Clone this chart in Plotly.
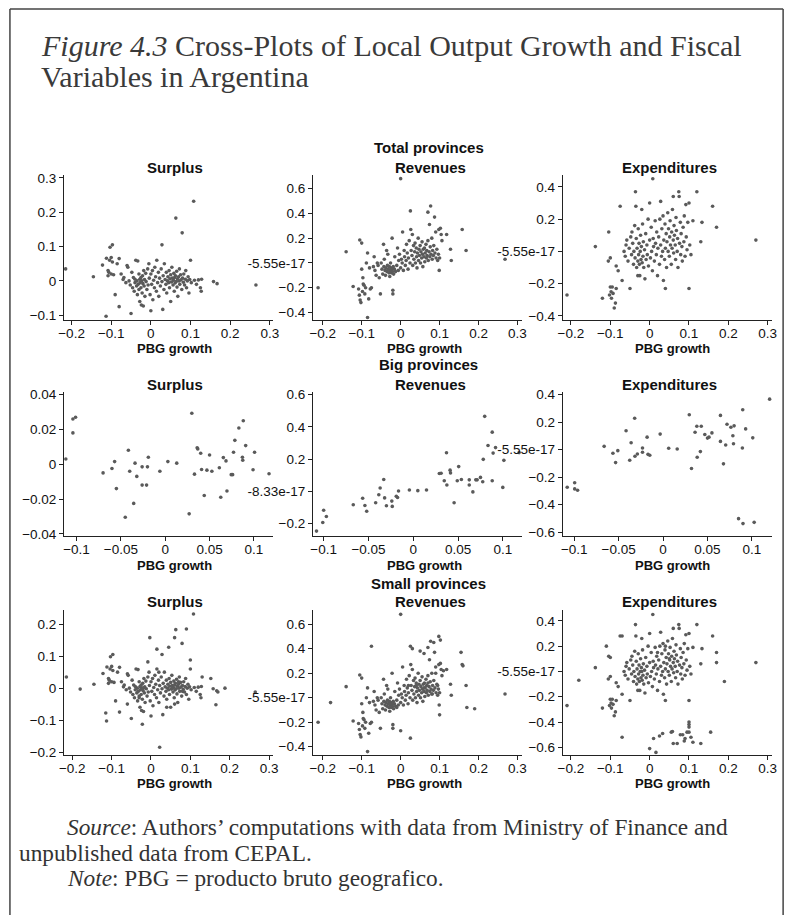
import plotly.graph_objects as go

W, H = 797, 921

# ---------------- DATA ----------------
# Total provinces
tot_sur_x = [-0.215,-0.145,-0.122,-0.112,-0.108,-0.106,-0.103,-0.097,-0.104,-0.1,-0.097,-0.094,-0.1,-0.108,-0.113,-0.09,-0.085,-0.08,-0.08,-0.075,
             -0.07,-0.068,-0.063,-0.06,-0.058,-0.055,-0.052,-0.05,-0.048,-0.046,-0.044,-0.042,-0.04,-0.04,-0.038,-0.036,-0.035,-0.034,-0.033,-0.032,
             -0.03,-0.03,-0.028,-0.028,-0.027,-0.025,-0.025,-0.024,-0.023,-0.022,-0.021,-0.02,-0.019,-0.018,-0.017,-0.016,-0.015,-0.013,-0.012,-0.01,
             -0.008,-0.007,-0.005,-0.004,-0.002,0.0,0.0,0.002,0.004,0.005,0.007,0.009,0.01,0.012,0.014,0.015,0.017,0.019,0.02,0.022,
             0.024,0.026,0.028,0.028,0.03,0.031,0.033,0.034,0.036,0.038,0.039,0.04,0.042,0.043,0.045,0.046,0.047,0.048,0.05,0.05,
             0.052,0.053,0.054,0.056,0.057,0.058,0.059,0.06,0.061,0.062,0.063,0.064,0.065,0.066,0.067,0.068,0.07,0.071,0.072,0.073,
             0.075,0.076,0.078,0.079,0.08,0.082,0.083,0.085,0.087,0.088,0.09,0.092,0.094,0.096,0.098,0.1,0.102,0.108,0.11,0.115,
             0.12,0.125,0.127,0.128,0.158,0.167,0.265]
tot_sur_y = [0.035,0.012,0.046,0.066,0.03,0.025,0.098,0.105,0.06,0.068,0.055,0.018,0.02,0.015,-0.103,-0.04,0.05,0.065,-0.075,0.02,
             0.004,0.01,-0.005,0.045,0.04,0.0,-0.012,-0.095,0.025,-0.02,0.01,-0.03,-0.005,0.005,0.06,-0.015,0.0,-0.04,0.058,-0.01,
             0.02,-0.025,0.005,-0.06,-0.005,0.01,-0.02,-0.07,0.0,-0.035,0.015,-0.008,-0.073,0.03,-0.015,0.004,-0.045,0.022,-0.002,-0.025,
             0.035,-0.012,0.05,0.008,-0.04,-0.087,0.02,-0.01,0.03,-0.055,0.002,-0.02,0.04,0.012,-0.03,0.06,-0.005,0.025,-0.045,0.008,
             -0.015,0.035,0.105,-0.002,-0.083,0.015,-0.025,0.05,0.004,-0.01,0.025,-0.035,0.0,0.012,-0.005,0.03,-0.02,0.006,-0.06,0.018,
             -0.003,0.04,0.008,-0.012,0.002,0.022,-0.03,0.01,-0.006,0.015,0.183,-0.002,0.028,-0.018,0.006,-0.045,0.012,0.0,0.035,-0.01,
             0.018,0.003,-0.025,0.14,0.008,-0.004,0.02,-0.012,0.005,0.03,-0.02,0.0,0.012,-0.035,0.004,0.06,-0.005,0.232,0.002,-0.01,
             0.003,-0.02,-0.03,0.005,-0.002,-0.008,-0.012]

tot_rev_x = [-0.212,-0.14,-0.122,-0.105,-0.1,-0.108,-0.106,-0.104,-0.102,-0.098,-0.096,-0.094,-0.1,-0.097,-0.092,-0.09,-0.088,-0.085,-0.085,-0.082,
             -0.08,-0.078,-0.075,-0.07,-0.068,-0.066,-0.063,-0.06,-0.058,-0.055,-0.052,-0.05,-0.048,-0.046,-0.044,-0.043,-0.042,-0.04,-0.039,-0.038,
             -0.036,-0.035,-0.034,-0.033,-0.032,-0.03,-0.029,-0.028,-0.027,-0.026,-0.025,-0.024,-0.023,-0.022,-0.021,-0.02,-0.02,-0.019,-0.018,-0.016,
             -0.015,-0.013,-0.01,-0.008,-0.006,-0.005,-0.003,0.0,0.0,0.002,0.004,0.005,0.007,0.009,0.01,0.012,0.014,0.015,0.017,0.019,
             0.02,0.022,0.024,0.025,0.026,0.027,0.029,0.03,0.031,0.033,0.034,0.036,0.037,0.038,0.04,0.041,0.042,0.043,0.045,0.046,
             0.047,0.048,0.05,0.051,0.052,0.054,0.055,0.056,0.057,0.058,0.06,0.061,0.062,0.063,0.065,0.066,0.067,0.068,0.07,0.07,
             0.071,0.073,0.074,0.075,0.076,0.077,0.078,0.08,0.081,0.082,0.084,0.085,0.087,0.088,0.09,0.091,0.093,0.095,0.097,0.098,
             0.099,0.1,0.102,0.104,0.106,0.118,0.128,0.13,0.158,0.168,0.268]
tot_rev_y = [-0.2,0.09,-0.19,0.185,0.16,-0.21,-0.26,-0.3,-0.32,-0.23,-0.17,-0.18,-0.05,-0.12,-0.25,-0.2,0.0,0.08,-0.44,-0.29,
             -0.04,-0.21,-0.2,-0.03,0.05,-0.06,-0.1,0.0,-0.02,-0.12,-0.25,0.0,-0.05,-0.09,0.15,-0.03,0.03,-0.06,-0.1,-0.04,
             0.1,-0.07,-0.02,0.07,-0.05,-0.08,-0.03,-0.11,-0.06,0.0,-0.04,-0.08,-0.05,0.2,-0.07,-0.22,-0.25,-0.03,-0.09,-0.05,
             0.05,-0.07,-0.02,0.12,-0.06,0.02,0.07,0.68,-0.04,0.03,0.0,0.25,-0.06,0.1,0.05,-0.02,0.02,0.15,0.08,-0.05,
             0.04,0.18,0.0,0.42,0.27,0.1,0.06,0.23,-0.02,0.14,0.03,0.09,0.16,0.0,0.12,0.05,-0.04,0.08,0.2,0.02,
             0.11,0.06,0.14,0.0,0.09,0.04,0.17,0.07,-0.03,0.11,0.05,0.12,0.01,0.08,0.15,0.04,0.1,0.06,0.41,0.18,
             0.02,0.09,0.31,0.05,0.13,0.46,0.07,0.2,0.03,0.1,0.06,0.14,0.37,0.08,0.25,0.04,0.11,0.02,0.07,0.27,
             -0.06,0.04,0.28,0.23,0.18,0.23,0.11,0.02,0.27,0.1,0.03]

tot_exp_x = [-0.21,-0.138,-0.12,-0.104,-0.105,-0.1,-0.1,-0.102,-0.098,-0.097,-0.095,-0.093,-0.09,-0.087,-0.085,-0.085,-0.08,-0.075,-0.07,-0.065,
             -0.062,-0.06,-0.058,-0.055,-0.052,-0.05,-0.048,-0.046,-0.045,-0.043,-0.041,-0.04,-0.038,-0.037,-0.036,-0.035,-0.034,-0.033,-0.032,-0.03,
             -0.03,-0.029,-0.028,-0.027,-0.026,-0.025,-0.024,-0.023,-0.022,-0.021,-0.02,-0.019,-0.018,-0.017,-0.016,-0.015,-0.013,-0.012,-0.01,-0.009,
             -0.007,-0.006,-0.004,-0.003,0.0,0.0,0.002,0.004,0.005,0.007,0.008,0.009,0.01,0.012,0.014,0.015,0.017,0.018,0.02,0.021,
             0.023,0.025,0.026,0.028,0.028,0.03,0.031,0.033,0.034,0.035,0.036,0.038,0.039,0.04,0.04,0.042,0.043,0.044,0.046,0.047,
             0.048,0.05,0.051,0.052,0.053,0.055,0.056,0.057,0.058,0.06,0.06,0.061,0.062,0.063,0.065,0.066,0.067,0.068,0.07,0.071,
             0.072,0.074,0.075,0.076,0.078,0.079,0.08,0.082,0.083,0.085,0.087,0.088,0.09,0.092,0.093,0.095,0.097,0.1,0.1,0.102,
             0.105,0.11,0.12,0.13,0.133,0.16,0.17,0.27]
tot_exp_y = [-0.27,0.03,-0.29,0.12,-0.06,-0.04,-0.22,-0.27,-0.25,-0.29,-0.22,-0.26,-0.35,-0.32,-0.09,-0.23,-0.12,0.28,-0.18,0.0,
             -0.03,0.04,0.07,-0.06,0.02,-0.23,0.09,-0.02,0.12,0.05,-0.08,0.0,0.16,-0.04,0.37,0.28,0.08,-0.1,0.02,-0.06,
             -0.15,0.14,-0.02,0.05,-0.08,-0.15,0.0,0.1,-0.05,0.03,0.26,-0.07,0.17,-0.03,0.06,-0.1,0.01,-0.17,0.11,-0.05,
             0.04,-0.02,0.2,-0.09,0.3,0.07,-0.04,0.15,0.0,-0.12,0.45,0.08,0.03,-0.06,0.19,0.05,-0.02,0.12,-0.15,0.02,
             0.09,-0.08,0.2,0.31,0.04,-0.03,0.14,0.0,0.22,-0.18,0.07,-0.05,0.17,0.02,-0.23,0.11,-0.1,0.06,0.24,0.0,
             0.14,-0.03,0.09,0.19,0.04,-0.08,0.12,0.02,0.26,0.34,0.07,-0.01,0.16,0.1,0.04,-0.05,0.21,0.13,0.0,0.08,
             -0.1,0.37,0.34,0.05,0.18,-0.02,0.11,0.03,-0.06,0.15,0.06,0.22,-0.03,0.29,0.09,0.01,0.18,0.3,-0.23,0.04,
             -0.02,0.19,0.37,0.06,0.18,0.28,0.15,0.07]

# Big provinces
big_sur_x = [-0.112,-0.104,-0.101,-0.104,-0.07,-0.06,-0.057,-0.055,-0.0415,-0.04,-0.045,-0.034,-0.032,-0.0355,-0.026,-0.026,-0.021,-0.02,-0.019,-0.006,
             0.003,0.013,0.027,0.03,0.033,0.036,0.0367,0.04,0.041,0.044,0.047,0.05,0.0526,0.061,0.0626,0.0655,0.0685,0.0696,0.0744,0.076,
             0.077,0.0785,0.083,0.087,0.0874,0.088,0.0907,0.099,0.1007,0.117]
big_sur_y = [0.003,0.026,0.027,0.018,-0.005,-0.0025,0.0015,-0.014,0.008,-0.004,-0.0305,0.0006,-0.007,-0.0225,-0.0015,-0.012,-0.012,-0.0015,0.004,-0.004,
             0.0015,0.0006,-0.0285,0.0293,-0.0057,0.0095,0.0088,0.0063,-0.003,-0.018,-0.0034,0.0053,-0.004,-0.002,-0.019,0.0038,0.0019,-0.0154,-0.006,-0.006,
             0.0069,0.0137,0.0208,0.004,0.0023,0.025,0.0107,-0.0032,0.0069,-0.0055]

big_rev_x = [-0.108,-0.1,-0.097,-0.101,-0.067,-0.0565,-0.054,-0.052,-0.042,-0.0385,-0.037,-0.033,-0.032,-0.03,-0.024,-0.0235,-0.019,-0.0176,-0.0165,-0.0044,
             0.005,0.0147,0.029,0.031,0.0345,0.037,0.0374,0.041,0.0415,0.0455,0.049,0.0536,0.0506,0.0624,0.0624,0.0664,0.0697,0.0712,0.0749,0.0774,
             0.078,0.0796,0.0833,0.088,0.088,0.089,0.0917,0.0998,0.101,0.118]
big_rev_y = [-0.247,-0.118,-0.157,-0.194,-0.084,-0.043,-0.088,-0.124,-0.071,-0.022,0.02,0.073,-0.041,-0.09,-0.061,-0.094,-0.031,-0.039,0.002,0.008,
             0.004,0.008,0.11,0.112,0.065,0.239,0.039,0.131,0.114,-0.071,0.065,0.073,0.153,0.071,0.039,-0.004,0.071,0.071,0.086,0.059,
             0.198,0.465,0.284,0.367,0.065,0.237,0.271,0.024,0.192,0.24]

big_exp_x = [-0.108,-0.0996,-0.0996,-0.0963,-0.0664,-0.0565,-0.051,-0.0535,-0.0417,-0.036,-0.0376,-0.032,-0.0317,-0.029,-0.0232,-0.0232,-0.018,-0.017,-0.015,-0.0033,
             0.0063,0.0159,0.0295,0.032,0.036,0.038,0.043,0.0384,0.042,0.047,0.05,0.0517,0.055,0.0646,0.0646,0.068,0.0705,0.072,0.0764,0.08,
             0.0786,0.0793,0.0893,0.0897,0.093,0.101,0.085,0.09,0.1026,0.12]
big_exp_y = [-0.273,-0.24,-0.285,-0.295,0.024,-0.026,-0.007,-0.094,0.137,0.05,-0.077,0.228,-0.048,-0.031,0.012,-0.019,0.091,-0.034,-0.041,0.113,
             0.01,0.005,0.254,-0.137,0.127,0.17,0.17,-0.055,-0.014,0.11,0.084,0.091,0.122,0.249,0.06,-0.103,0.034,0.185,0.163,0.173,
             0.101,0.043,0.012,0.29,0.151,0.086,-0.501,-0.537,-0.528,0.367]

# Small provinces: points also in the total panels plus the additional ones read below
sml_sur_extra_x = [-0.18,-0.115,-0.022,0.022,-0.003,0.045,0.06,0.09,0.015,0.1,-0.008,0.188,0.165,0.17,0.152,0.13,0.04,0.06,-0.06,0.02,-0.03,0.07,0.055,-0.02,0.08]
sml_sur_extra_y = [-0.003,-0.078,-0.113,-0.185,0.158,0.128,0.158,0.185,0.122,0.088,0.082,0.0,-0.052,-0.012,0.03,0.035,-0.06,-0.05,-0.05,0.05,-0.03,0.02,0.0,0.0,-0.01]
sml_rev_extra_x = [-0.18,-0.075,0.098,0.102,0.085,0.155,0.16,0.17,0.19,0.1,0.025,0.0,0.03,0.05,0.06,0.11,0.09,0.04,0.06,0.07,-0.03,-0.01,0.02,0.08,0.095]
sml_rev_extra_y = [-0.04,0.42,0.5,0.47,0.45,0.37,0.26,-0.08,-0.09,-0.14,-0.33,-0.27,0.4,0.38,0.36,0.22,0.2,0.1,0.08,0.12,-0.05,-0.08,0.1,0.03,0.1]
sml_exp_extra_x = [0.01,0.025,0.033,0.055,0.058,0.07,0.078,0.084,0.09,0.095,0.1,0.1,0.1,0.1,0.105,0.11,0.13,0.155,0.0,0.016,-0.07,0.06,0.088,
                   -0.18,0.19,-0.11,-0.1,0.17,-0.07,0.02,0.05,0.04,-0.02]
sml_exp_extra_y = [-0.53,-0.51,-0.49,-0.48,-0.475,-0.57,-0.5,-0.5,-0.53,-0.48,-0.48,-0.4,-0.42,-0.44,-0.52,-0.56,-0.57,-0.48,-0.61,-0.64,-0.52,-0.57,-0.55,
                   -0.07,-0.08,0.2,0.11,0.07,0.28,0.15,0.1,0.2,0.0]

sml_sur_x = tot_sur_x + sml_sur_extra_x
sml_sur_y = tot_sur_y + sml_sur_extra_y
sml_rev_x = tot_rev_x + sml_rev_extra_x
sml_rev_y = tot_rev_y + sml_rev_extra_y
sml_exp_x = tot_exp_x + sml_exp_extra_x
sml_exp_y = tot_exp_y + sml_exp_extra_y

# Tick labels
xt_wide = [-0.2, -0.1, 0, 0.1, 0.2, 0.3]
xt_wide_txt = ["\u22120.2", "\u22120.1", "0", "0.1", "0.2", "0.3"]
xt_narrow = [-0.1, -0.05, 0, 0.05, 0.1]
xt_narrow_txt = ["\u22120.1", "\u22120.05", "0", "0.05", "0.1"]

yt_r1c1 = [-0.1, 0, 0.1, 0.2, 0.3]
yt_r1c1_txt = ["\u22120.1", "0", "0.1", "0.2", "0.3"]
yt_rev = [-0.4, -0.2, 0, 0.2, 0.4, 0.6]
yt_rev_txt = ["\u22120.4", "\u22120.2", "-5.55e-17", "0.2", "0.4", "0.6"]
yt_r1c3 = [-0.4, -0.2, 0, 0.2, 0.4]
yt_r1c3_txt = ["\u22120.4", "\u22120.2", "-5.55e-17", "0.2", "0.4"]
yt_r2c1 = [-0.04, -0.02, 0, 0.02, 0.04]
yt_r2c1_txt = ["\u22120.04", "\u22120.02", "0", "0.02", "0.04"]
yt_r2c2 = [-0.2, 0, 0.2, 0.4, 0.6]
yt_r2c2_txt = ["\u22120.2", "-8.33e-17", "0.2", "0.4", "0.6"]
yt_exp6 = [-0.6, -0.4, -0.2, 0, 0.2, 0.4]
yt_exp6_txt = ["\u22120.6", "\u22120.4", "\u22120.2", "-5.55e-17", "0.2", "0.4"]
yt_r3c1 = [-0.2, -0.1, 0, 0.1, 0.2]
yt_r3c1_txt = ["\u22120.2", "\u22120.1", "0", "0.1", "0.2"]

group_titles = ["Total provinces", "Big provinces", "Small provinces"]
panel_titles = ["Surplus", "Revenues", "Expenditures"]
x_title = "PBG growth"

# ---------------- LAYOUT ----------------
def fx(p):
    return p / W

def fy(p):
    return 1 - p / H

cols_px = [(59, 271), (312, 525), (566, 779)]
rows_px = [(172, 319), (392, 537), (612, 759)]

panels = [
    (0, 0, tot_sur_x, tot_sur_y, [-0.219, 0.307], [-0.1144, 0.3086], xt_wide, xt_wide_txt, yt_r1c1, yt_r1c1_txt),
    (0, 1, tot_rev_x, tot_rev_y, [-0.2253, 0.3127], [-0.462, 0.71], xt_wide, xt_wide_txt, yt_rev, yt_rev_txt),
    (0, 2, tot_exp_x, tot_exp_y, [-0.2208, 0.3117], [-0.426, 0.4737], xt_wide, xt_wide_txt, yt_r1c3, yt_r1c3_txt),
    (1, 0, big_sur_x, big_sur_y, [-0.114, 0.121], [-0.041, 0.0413], xt_narrow, xt_narrow_txt, yt_r2c1, yt_r2c1_txt),
    (1, 1, big_rev_x, big_rev_y, [-0.112, 0.1217], [-0.275, 0.614], xt_narrow, xt_narrow_txt, yt_r2c2, yt_r2c2_txt),
    (1, 2, big_exp_x, big_exp_y, [-0.113, 0.123], [-0.624, 0.4166], xt_narrow, xt_narrow_txt, yt_exp6, yt_exp6_txt),
    (2, 0, sml_sur_x, sml_sur_y, [-0.221, 0.309], [-0.209, 0.2454], xt_wide, xt_wide_txt, yt_r3c1, yt_r3c1_txt),
    (2, 1, sml_rev_x, sml_rev_y, [-0.2253, 0.3127], [-0.467, 0.718], xt_wide, xt_wide_txt, yt_rev, yt_rev_txt),
    (2, 2, sml_exp_x, sml_exp_y, [-0.2208, 0.3117], [-0.66, 0.488], xt_wide, xt_wide_txt, yt_exp6, yt_exp6_txt),
]

fig = go.Figure()
FONT = "Liberation Sans, Arial, sans-serif"
SERIF = "Liberation Serif, Times New Roman, serif"
layout = {}
for i, (r, c, xs, ys, xr, yr, xtv, xtt, ytv, ytt) in enumerate(panels):
    n = i + 1
    xa = "x" if n == 1 else f"x{n}"
    ya = "y" if n == 1 else f"y{n}"
    fig.add_trace(go.Scatter(
        x=xs, y=ys, mode="markers", xaxis=xa, yaxis=ya,
        marker=dict(size=3.6, color="#5a5a5a", line=dict(width=0)),
        showlegend=False, hoverinfo="x+y"))
    common = dict(showline=True, linecolor="#222", linewidth=1, ticks="outside", ticklen=4,
                  tickwidth=1, tickcolor="#222", showgrid=False, zeroline=False,
                  tickfont=dict(family=FONT, size=13.5, color="#111"), fixedrange=True)
    layout["xaxis" if n == 1 else f"xaxis{n}"] = dict(
        domain=[fx(cols_px[c][0]), fx(cols_px[c][1])], range=xr, anchor=ya,
        tickmode="array", tickvals=xtv, ticktext=xtt, ticklabelstandoff=-3, **common)
    layout["yaxis" if n == 1 else f"yaxis{n}"] = dict(
        domain=[fy(rows_px[r][1]), fy(rows_px[r][0])], range=yr, anchor=xa,
        tickmode="array", tickvals=ytv, ticktext=ytt, **common)

fig.update_layout(**layout)

ann = []
def add_text(txt, x, y, size, family=FONT, xanchor="center", color="#111"):
    ann.append(dict(text=txt, x=fx(x), y=fy(y), xref="paper", yref="paper",
                    xanchor=xanchor, yanchor="middle", showarrow=False, borderpad=0,
                    font=dict(family=family, size=size, color=color)))

group_y = [144, 364, 585]
title_y = [164, 384, 604]
xlab_y = [348, 567, 788]
title_x = [172, 432, 674]
xlab_x = [171, 425, 678]
for r in range(3):
    add_text(f"<b>{group_titles[r]}</b>", 430, group_y[r], 15)
    for c in range(3):
        add_text(f"<b>{panel_titles[c]}</b>", title_x[c], title_y[r], 15)
        add_text(f"<b>{x_title}</b>", xlab_x[c], xlab_y[r], 13)

add_text("<i>Figure 4.3</i> Cross-Plots of Local Output Growth and Fiscal", 35, 41, 30, SERIF, "left", "#3a3a3a")
add_text("Variables in Argentina", 35, 72, 30, SERIF, "left", "#3a3a3a")
add_text("<i>Source</i>: Authors\u2019 computations with data from Ministry of Finance and", 61, 832, 23.3, SERIF, "left", "#333")
add_text("unpublished data from CEPAL.", 12, 858, 23.3, SERIF, "left", "#333")
add_text("<i>Note</i>: PBG = producto bruto geografico.", 61, 884, 23.3, SERIF, "left", "#333")

shapes = [
    dict(type="line", xref="paper", yref="paper", x0=fx(4), x1=fx(4), y0=0, y1=fy(4), line=dict(color="#444", width=1.5)),
    dict(type="line", xref="paper", yref="paper", x0=fx(4), x1=fx(790), y0=fy(4), y1=fy(4), line=dict(color="#444", width=1.5)),
    dict(type="line", xref="paper", yref="paper", x0=fx(790), x1=fx(790), y0=0, y1=fy(4), line=dict(color="#444", width=1.5)),
]

fig.update_layout(width=W, height=H, margin=dict(l=0, r=0, t=0, b=0),
                  paper_bgcolor="white", plot_bgcolor="white",
                  annotations=ann, shapes=shapes, showlegend=False)

fig.write_html("out.html", config={"displayModeBar": False},
               post_script="document.body.style.margin='0';document.body.style.padding='0';")
